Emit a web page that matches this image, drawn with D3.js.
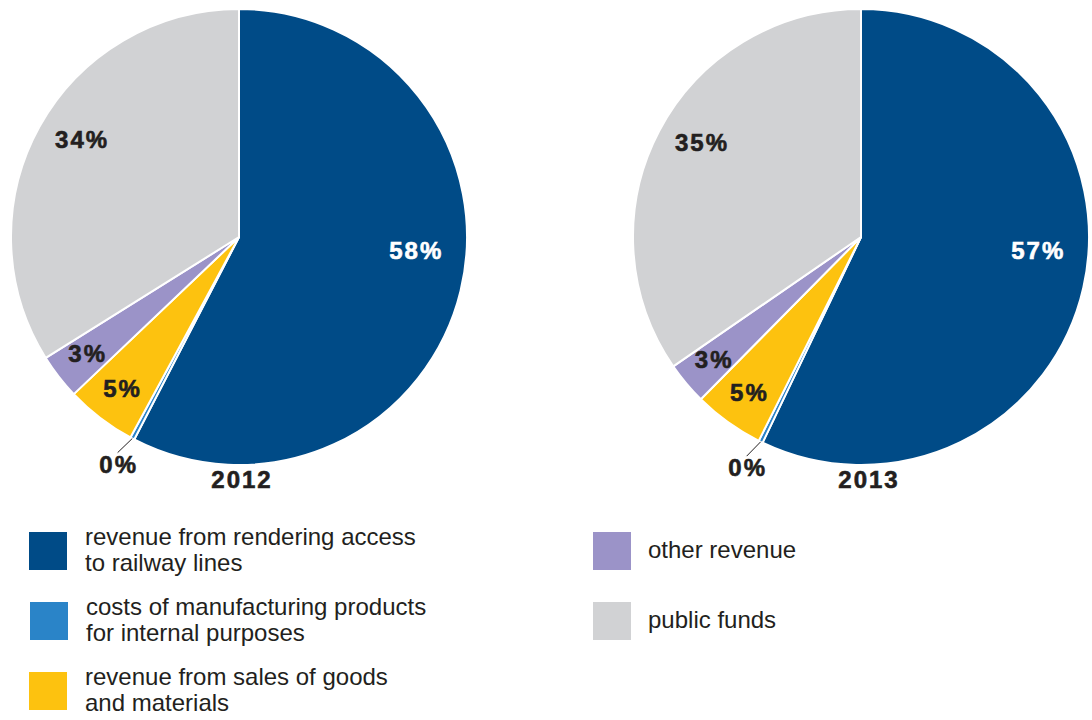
<!DOCTYPE html>
<html>
<head>
<meta charset="utf-8">
<script src="https://cdn.jsdelivr.net/npm/d3@7"></script>
<style>
  body { margin: 0; background: #fff; }
  svg text { font-family: "Liberation Sans", Arial, sans-serif; }
  .pct { font-size: 24px; font-weight: bold; letter-spacing: 2px; stroke-width: 0.6px; text-anchor: middle; }
</style>
</head>
<body>
<div id="chart"></div>
<script>
// data
var categories = [
  "revenue from rendering access to railway lines",
  "costs of manufacturing products for internal purposes",
  "revenue from sales of goods and materials",
  "other revenue",
  "public funds"
];
var legendLines = [
  ["revenue from rendering access", "to railway lines"],
  ["costs of manufacturing products", "for internal purposes"],
  ["revenue from sales of goods", "and materials"],
  ["other revenue"],
  ["public funds"]
];
var years = ["2012", "2013"];
var values2012 = [57.6, 0.3, 5.0, 3.2, 33.9];
var values2013 = [57.1, 0.3, 5.0, 3.0, 34.6];
var colors = ["#004b87", "#2a84c8", "#fdc20f", "#9b93c8", "#d1d2d4"];

var svgWidth = 1092;
var svgHeight = 720;
var radius = 228;
var centers = [[239, 237], [861, 237]];

var svg = d3.select("#chart")
  .append("svg")
  .attr("width", svgWidth)
  .attr("height", svgHeight);

var color = d3.scaleOrdinal().domain(categories).range(colors);

var pie = d3.pie()
  .sort(null)
  .value(d => d.value);

var arc = d3.arc().innerRadius(0).outerRadius(radius);
var labelArc = d3.arc().innerRadius(radius * 0.84).outerRadius(radius * 0.84);

function pctText(g, x, y, txt, fill) {
  return g.append("text")
    .attr("class", "pct")
    .attr("x", x)
    .attr("y", y)
    .style("fill", fill)
    .style("stroke", fill)
    .text(txt);
}

[values2012, values2013].forEach(function(vals, i) {
  var data = vals.map((v, j) => ({ name: categories[j], value: v }));
  var g = svg.append("g")
    .attr("transform", `translate(${centers[i][0]}, ${centers[i][1]})`);

  var arcs = pie(data);

  g.selectAll("path")
    .data(arcs)
    .enter()
    .append("path")
    .attr("d", arc)
    .attr("fill", d => color(d.data.name))
    .attr("stroke", "#fff")
    .attr("stroke-width", 2)
    .attr("stroke-linejoin", "round");

  arcs.forEach(function(d, j) {
    var pct = Math.round(d.data.value) + "%";
    var mid = (d.startAngle + d.endAngle) / 2;
    if (d.data.value < 1) {
      // tiny slice: label outside with leader line
      var x1 = Math.sin(mid) * radius, y1 = -Math.cos(mid) * radius;
      var x2 = Math.sin(mid) * radius * 1.1, y2 = -Math.cos(mid) * radius * 1.08;
      g.append("line")
        .attr("x1", x1).attr("y1", y1)
        .attr("x2", x2 - 4).attr("y2", y2 - 2)
        .attr("stroke", "#231f20")
        .attr("stroke-width", 1);
      pctText(g, x2 - 3, y2 + 18, pct, "#231f20");
      return;
    }
    var c = labelArc.centroid(d);
    if (j === 0) {
      // main slice label sits nearer the horizontal
      var a = Math.PI * 0.525;
      c = [Math.sin(a) * radius * 0.78, -Math.cos(a) * radius * 0.78];
    } else if (j === 4) {
      var a4 = mid + 0.05;
      c = [Math.sin(a4) * radius * 0.81, -Math.cos(a4) * radius * 0.81];
    }
    pctText(g, c[0], c[1] + 8, pct, j === 0 ? "#fff" : "#231f20");
  });

  pctText(g, 3 + i * 5, 251, years[i], "#231f20");
});

// legend
var legendPos = [[29, 532], [30, 602], [29, 672], [593, 532], [593, 602]];
var legend = svg.selectAll(".legend")
  .data(categories)
  .enter()
  .append("g")
  .attr("class", "legend")
  .attr("transform", (d, i) => `translate(${legendPos[i][0]}, ${legendPos[i][1]})`);

legend.append("rect")
  .attr("width", 38)
  .attr("height", 38)
  .attr("fill", d => color(d));

legend.each(function(d, i) {
  var lines = legendLines[i];
  var t = d3.select(this).append("text")
    .style("font-size", "24px")
    .style("fill", "#231f20");
  var start = 18 - (lines.length - 1) * 13;
  lines.forEach(function(l, k) {
    t.append("tspan")
      .attr("x", i < 3 ? 56 : 55)
      .attr("y", start + k * 26)
      .attr("dy", "0.35em")
      .text(l);
  });
});
</script>
</body>
</html>
